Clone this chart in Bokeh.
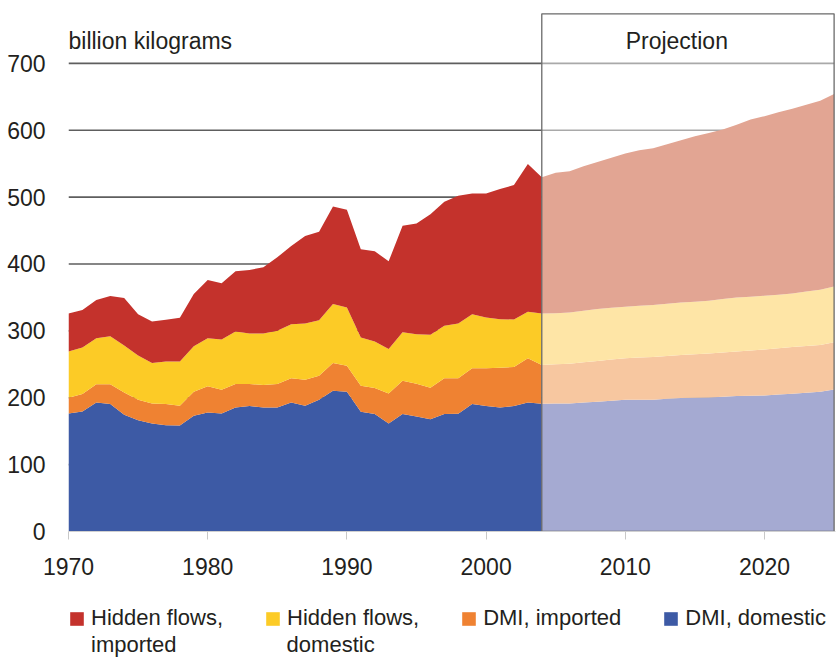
from bokeh.plotting import figure
from bokeh.layouts import column
from bokeh.models import Range1d, Legend, LegendItem, ColumnDataSource, FixedTicker
from bokeh.embed import file_html
from bokeh.resources import INLINE

# ---- data (billion kilograms) ----
years_hist = list(range(1970, 2005))
dmi_domestic = [176.5, 179.5, 193, 190.5, 174.5, 166.5, 161.5, 159, 158.5, 173,
                178, 176.5, 185.5, 187.5, 185.5, 185.5, 193, 188, 197, 210.5,
                209, 179, 175.5, 161.5, 175.5, 172, 168, 175.5, 176, 190.5,
                187.5, 185.5, 187.5, 193, 191]
dmi_imported = [23.5, 26, 27, 29.5, 33.5, 30.5, 30, 31.5, 29.5, 36,
                39, 35.5, 35, 33, 33.5, 35, 36, 39, 36, 41.5,
                39, 39, 39, 45, 50, 49, 47, 53.5, 53, 53.5,
                56.5, 59.5, 58.5, 66, 58]
hidden_domestic = [69, 69.5, 69, 72, 70, 66, 60.5, 63.5, 66, 68,
                   72, 75, 78.5, 75.5, 77, 79.5, 81, 84, 83, 88,
                   87, 72, 69.5, 66.5, 72.5, 74, 79, 78.5, 82, 81,
                   76, 72.5, 71, 69.5, 77]
hidden_imported = [57, 56, 57, 60, 71, 62, 62, 62.5, 65.5, 78,
                   87, 84, 90, 95, 99, 110, 117, 131, 132, 146,
                   146, 132, 135, 131, 159, 165.5, 180.5, 185.5, 191, 180.5,
                   185.5, 194.5, 201, 221, 203.5]

years_proj = list(range(2004, 2026))
proj_dmi_domestic = [191, 191.5, 191.5, 193, 194, 195.5, 197, 197, 197, 198.5, 199.5,
                     200, 200.5, 201.5, 202.5, 203, 203.5, 205, 206, 207.5, 209, 212.5]
proj_dmi_imported = [58, 58.5, 59.5, 60, 61, 61.5, 62, 63, 64, 64, 64.5,
                     65, 65.5, 66, 66.5, 67.5, 68.5, 69, 70, 70, 70, 70.5]
proj_hidden_domestic = [77, 76.5, 76.5, 77, 77.5, 77.5, 77, 77.5, 77.5, 78, 78.5,
                        78.5, 79, 80, 81, 80.5, 80.5, 80, 80, 81.5, 82.5, 83.5]
proj_hidden_imported = [203.5, 210, 211, 216, 220, 224.5, 229, 232.5, 234.5, 238.5, 242.5,
                        247.5, 251, 253.5, 258, 265, 268.5, 273, 276, 279, 282.5, 287.5]

# legend labels: first line of each entry, and the wrapped second lines
series_labels = ["Hidden flows,", "Hidden flows,", "DMI, imported", "DMI, domestic"]
series_labels_line2 = ["imported", "domestic"]
y_ticks = [0, 100, 200, 300, 400, 500, 600, 700]
x_ticks = [1970, 1980, 1990, 2000, 2010, 2020]
proj_start, proj_end = 2004, 2025
unit_label = "billion kilograms"
proj_label = "Projection"

# ---- styles ----
FONT = "Liberation Sans"
FS = "23px"
TXT = "#231f20"
colors = ["#3d5aa5", "#ef8232", "#fccb26", "#c4322c"]          # bottom -> top
colors_light = ["#a5aad2", "#f7c7a0", "#fee5a6", "#e2a593"]

src_h = ColumnDataSource(dict(year=years_hist, dd=dmi_domestic, di=dmi_imported,
                              hd=hidden_domestic, hi=hidden_imported))
src_p = ColumnDataSource(dict(year=years_proj, dd=proj_dmi_domestic, di=proj_dmi_imported,
                              hd=proj_hidden_domestic, hi=proj_hidden_imported))

p = figure(width=838, height=590, output_backend="svg", toolbar_location=None,
           x_range=Range1d(1970, 2025.1), y_range=Range1d(0, 776),
           min_border_left=68, min_border_right=3, min_border_top=12, min_border_bottom=59)
p.outline_line_color = None
p.xgrid.visible = False
p.ygrid.visible = False

# gridlines (under areas)
gy = y_ticks[1:]
p.segment(x0=[1970] * len(gy), x1=[proj_start] * len(gy), y0=gy, y1=gy,
          line_color="#5e5e5e", line_width=1.6)
p.segment(x0=[proj_start] * len(gy), x1=[proj_end] * len(gy), y0=gy, y1=gy,
          line_color="#a9a9a9", line_width=1.6)

stack = ["dd", "di", "hd", "hi"]
r_hist = p.varea_stack(stack, x="year", color=colors, source=src_h)
r_proj = p.varea_stack(stack, x="year", color=colors_light, source=src_p)

# projection box
p.quad(left=[proj_start], right=[proj_end], bottom=[0], top=[774],
       fill_color=None, line_color="#6a6a6a", line_width=1.3)

p.text(x=[1970], y=[734], text=[unit_label], text_font={"value": FONT},
       text_font_size=FS, text_color=TXT, text_baseline="middle", text_align="left")
p.text(x=[2013.7], y=[734], text=[proj_label], text_font={"value": FONT},
       text_font_size=FS, text_color=TXT, text_baseline="middle", text_align="center")

# axes
p.yaxis.ticker = FixedTicker(ticks=y_ticks)
p.yaxis.axis_line_color = None
p.yaxis.major_tick_line_color = None
p.yaxis.minor_tick_line_color = None
p.yaxis.major_label_standoff = 17
p.yaxis.major_label_text_font = FONT
p.yaxis.major_label_text_font_size = FS
p.yaxis.major_label_text_color = TXT

p.xaxis.ticker = FixedTicker(ticks=x_ticks)
p.xaxis.axis_line_color = "#d0d0d0"
p.xaxis.major_tick_line_color = "#c8c8c8"
p.xaxis.major_tick_out = 8
p.xaxis.major_tick_in = 0
p.xaxis.minor_tick_line_color = None
p.xaxis.major_label_standoff = 18
p.xaxis.major_label_text_font = FONT
p.xaxis.major_label_text_font_size = FS
p.xaxis.major_label_text_color = TXT

# legend in its own strip below the chart (proxy swatches with no drawable geometry)
nan = float("nan")
lg = figure(width=838, height=69, output_backend="svg", toolbar_location=None,
            x_range=Range1d(0, 1), y_range=Range1d(0, 1),
            min_border=0, min_border_left=0, min_border_right=0,
            min_border_top=0, min_border_bottom=0)
lg.axis.visible = False
lg.grid.visible = False
lg.outline_line_color = None
swatches = [lg.quad(left=[nan], right=[nan], top=[nan], bottom=[nan],
                    fill_color=c, line_color=None)
            for c in colors[::-1]]
blank = lg.quad(left=[nan], right=[nan], top=[nan], bottom=[nan],
                fill_alpha=0, line_alpha=0)

common = dict(orientation="horizontal", glyph_width=17, glyph_height=17, label_standoff=6,
              padding=0, margin=0, border_line_color=None, background_fill_alpha=0,
              label_text_font=FONT, label_text_font_size="22px", label_text_color=TXT)
items = [LegendItem(label=series_labels[i], renderers=[swatches[i]]) for i in range(4)]
legend1 = Legend(items=items, location=(0, 28), spacing=41, **common)
items2 = [LegendItem(label=t, renderers=[blank]) for t in series_labels_line2]
legend2 = Legend(items=items2, location=(0, 1), spacing=87, **common)
lg.add_layout(legend1, "center")
lg.add_layout(legend2, "center")

layout = column(p, lg, spacing=0)
open("out.html", "w").write(file_html(layout, INLINE))
